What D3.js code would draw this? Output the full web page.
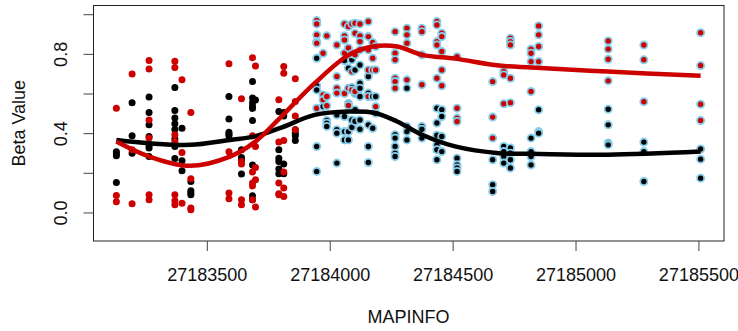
<!DOCTYPE html>
<html>
<head>
<meta charset="utf-8">
<script src="https://cdn.jsdelivr.net/npm/d3@7"></script>
<style>
  body { margin: 0; background: #fff; }
  text { font-family: "Liberation Sans", Arial, sans-serif; }
</style>
</head>
<body>
<div id="chart"></div>
<script>
// probe positions (MAPINFO)
const probePos = [27183132, 27183196, 27183265, 27183370, 27183399, 27183435, 27183590, 27183641,
    27183686, 27183698, 27183793, 27183813, 27183860, 27183947, 27183973, 27183988, 27184029,
    27184060, 27184076, 27184090, 27184103, 27184123, 27184157, 27184175, 27184187, 27184266,
    27184314, 27184375, 27184436, 27184456, 27184518, 27184663, 27184708, 27184735, 27184819,
    27184850, 27185133, 27185278, 27185509];

// beta values per probe, red group
const redBeta = [
    [0.526, 0.086, 0.054], [0.699, 0.316, 0.044], [0.766, 0.724, 0.467, 0.375, 0.089, 0.064],
    [0.763, 0.731, 0.392, 0.358, 0.089, 0.059, 0.039], [0.669, 0.302, 0.047], [0.504, 0.170, 0.022, 0.014],
    [0.750, 0.306, 0.098, 0.069], [0.573, 0.257, 0.244, 0.064, 0.039], [0.781, 0.387, 0.204, 0.148, 0.134, 0.064],
    [0.739, 0.333, 0.227, 0.165, 0.027], [0.568, 0.355, 0.148, 0.094, 0.089], [0.736, 0.702, 0.363, 0.204, 0.123, 0.081],
    [0.674, 0.560, 0.487, 0.417], [0.968, 0.951, 0.896, 0.862, 0.854, 0.526], [0.803, 0.593, 0.568],
    [0.891, 0.585, 0.538], [0.845, 0.686, 0.627, 0.602], [0.951, 0.891, 0.870, 0.803, 0.600],
    [0.938, 0.830, 0.627, 0.540], [0.951, 0.800, 0.711, 0.618], [0.955, 0.904, 0.795, 0.610],
    [0.951, 0.891, 0.862, 0.820], [0.963, 0.887, 0.820, 0.719, 0.585], [0.857, 0.778, 0.719],
    [0.837, 0.719, 0.534], [0.912, 0.803, 0.770, 0.677, 0.660, 0.627], [0.929, 0.896, 0.854, 0.669],
    [0.929, 0.912, 0.795, 0.644], [0.963, 0.946, 0.862, 0.845, 0.677], [0.904, 0.887, 0.812, 0.719, 0.639],
    [0.786, 0.526, 0.476, 0.459], [0.660, 0.481, 0.375], [0.711, 0.694, 0.548],
    [0.879, 0.862, 0.845, 0.677, 0.554], [0.824, 0.803, 0.761, 0.610], [0.941, 0.896, 0.837, 0.761],
    [0.865, 0.824, 0.773, 0.664], [0.845, 0.770, 0.559], [0.907, 0.741, 0.546, 0.464]
];

// beta values per probe, black group
const blackBeta = [
    [0.306, 0.296, 0.286, 0.151], [0.554, 0.387, 0.299], [0.582, 0.504, 0.442, 0.383, 0.336, 0.325, 0.282],
    [0.630, 0.514, 0.476, 0.447, 0.418, 0.370, 0.333, 0.272], [0.425, 0.261, 0.210], [0.156, 0.109, 0.098, 0.089],
    [0.585, 0.471, 0.405, 0.395, 0.387], [0.316, 0.277, 0.263, 0.194],
    [0.660, 0.578, 0.553, 0.536, 0.525, 0.464, 0.240, 0.084, 0.064], [0.567],
    [0.509, 0.316, 0.274, 0.257, 0.219, 0.195], [0.504, 0.487, 0.245, 0.195], [0.417, 0.400, 0.387, 0.363],
    [0.778, 0.640, 0.618, 0.333, 0.207], [0.534], [0.464, 0.450, 0.434], [0.492, 0.417, 0.400, 0.249],
    [0.766, 0.484, 0.408, 0.366], [0.728, 0.550, 0.408, 0.366], [0.770, 0.630, 0.467, 0.430],
    [0.719, 0.600, 0.518, 0.460], [0.744, 0.652, 0.627, 0.585, 0.467, 0.420], [0.686, 0.602, 0.442, 0.333, 0.252],
    [0.585, 0.425], [0.585, 0.500], [0.392, 0.375, 0.333, 0.299, 0.282], [0.627, 0.434, 0.408, 0.366],
    [0.434, 0.420, 0.375], [0.526, 0.451, 0.390, 0.341, 0.316, 0.266], [0.518, 0.484, 0.383, 0.307],
    [0.274, 0.240, 0.224, 0.207], [0.266, 0.140, 0.106], [0.333, 0.307, 0.282, 0.249],
    [0.325, 0.299, 0.266, 0.224], [0.375, 0.307, 0.282, 0.240], [0.518, 0.408, 0.400],
    [0.521, 0.442, 0.350, 0.341], [0.355, 0.307, 0.156], [0.320, 0.269, 0.173]
];

// probes from here on are outlined in blue
const highlightStart = 27183900;

// smoothed curves
const smoothX = [27183132, 27183268, 27183431, 27183594, 27183696, 27183797, 27183939, 27184078,
    27184180, 27184274, 27184376, 27184510, 27184689, 27184823, 27185130, 27185509];
const smoothRed = [0.358, 0.281, 0.235, 0.282, 0.356, 0.476, 0.652, 0.795, 0.838, 0.837, 0.795, 0.776,
    0.741, 0.731, 0.711, 0.689];
const smoothBlack = [0.366, 0.349, 0.341, 0.366, 0.384, 0.425, 0.492, 0.509, 0.503, 0.459, 0.392, 0.333,
    0.299, 0.296, 0.291, 0.307];

const xTicks = [27183500, 27184000, 27184500, 27185000, 27185500];
const yTicks = [0, 0.2, 0.4, 0.6, 0.8, 1.0];
const yTickLabels = ['0.0', '', '0.4', '', '0.8', ''];
const yLimits = [-0.1, 1.0];

const width = 738, height = 331;
const margin = { top: 5.5, right: 14, bottom: 90, left: 93 };
const redCol = '#CD0000';
const ringCol = '#87CEEB';

const svg = d3.select('#chart').append('svg')
    .attr('width', width)
    .attr('height', height);

// R style 4% range extension
const pad = (lo, hi) => [lo - (hi - lo) * 0.04, hi + (hi - lo) * 0.04];
const xExt = d3.extent(probePos);

const x = d3.scaleLinear()
    .domain(pad(xExt[0], xExt[1]))
    .range([margin.left, width - margin.right]);
const y = d3.scaleLinear()
    .domain(pad(yLimits[0], yLimits[1]))
    .range([height - margin.bottom, margin.top]);

// flatten points
const points = [];
probePos.forEach((p, i) => {
    blackBeta[i].forEach(v => points.push({ pos: p, beta: v, fill: '#000' }));
    redBeta[i].forEach(v => points.push({ pos: p, beta: v, fill: redCol }));
});

svg.append('g')
    .selectAll('circle')
    .data(points)
    .enter()
    .append('circle')
    .attr('cx', d => x(d.pos))
    .attr('cy', d => y(d.beta))
    .attr('r', d => d.pos >= highlightStart ? 3.6 : 3.5)
    .attr('fill', d => d.fill)
    .attr('stroke', d => d.pos >= highlightStart ? ringCol : 'none')
    .attr('stroke-width', 1.8);

const line = d3.line()
    .x((d, i) => x(smoothX[i]))
    .y(d => y(d))
    .curve(d3.curveCatmullRom.alpha(0.5));

svg.append('path')
    .attr('d', line(smoothBlack))
    .attr('fill', 'none')
    .attr('stroke', '#000')
    .attr('stroke-width', 4.5);

svg.append('path')
    .attr('d', line(smoothRed))
    .attr('fill', 'none')
    .attr('stroke', redCol)
    .attr('stroke-width', 4.5);

// box
svg.append('rect')
    .attr('x', margin.left + 0.5)
    .attr('y', margin.top)
    .attr('width', width - margin.left - margin.right - 0.5)
    .attr('height', height - margin.top - margin.bottom)
    .attr('fill', 'none')
    .attr('stroke', '#222')
    .attr('stroke-width', 1);

// x axis
const xAxis = d3.axisBottom(x)
    .tickValues(xTicks)
    .tickFormat(d3.format('d'))
    .tickSize(10)
    .tickPadding(17);

const xg = svg.append('g')
    .attr('transform', 'translate(0,' + (height - margin.bottom) + ')')
    .call(xAxis);
xg.select('.domain').remove();
xg.selectAll('.tick line').attr('stroke', '#444');
xg.selectAll('.tick text')
    .attr('font-size', 18)
    .attr('fill', '#111')
    .attr('font-family', '"Liberation Sans", Arial, sans-serif');

// y axis
const yAxis = d3.axisLeft(y)
    .tickValues(yTicks)
    .tickFormat((d, i) => yTickLabels[i])
    .tickSize(10)
    .tickPadding(0);

const yg = svg.append('g')
    .attr('transform', 'translate(' + (margin.left + 0.5) + ',0)')
    .call(yAxis);
yg.select('.domain').remove();
yg.selectAll('.tick line').attr('stroke', '#444');
yg.selectAll('.tick text')
    .attr('x', null)
    .attr('dy', null)
    .attr('transform', 'translate(-27,0) rotate(-90)')
    .attr('text-anchor', 'middle')
    .attr('font-size', 18)
    .attr('fill', '#111')
    .attr('font-family', '"Liberation Sans", Arial, sans-serif');

// axis titles
svg.append('text')
    .attr('x', (margin.left + width - margin.right) / 2)
    .attr('y', 323)
    .attr('text-anchor', 'middle')
    .attr('font-size', 18)
    .attr('fill', '#111')
    .text('MAPINFO');

svg.append('text')
    .attr('transform', 'translate(25,' + ((margin.top + height - margin.bottom) / 2) + ') rotate(-90)')
    .attr('text-anchor', 'middle')
    .attr('font-size', 18)
    .attr('fill', '#111')
    .text('Beta Value');
</script>
</body>
</html>
